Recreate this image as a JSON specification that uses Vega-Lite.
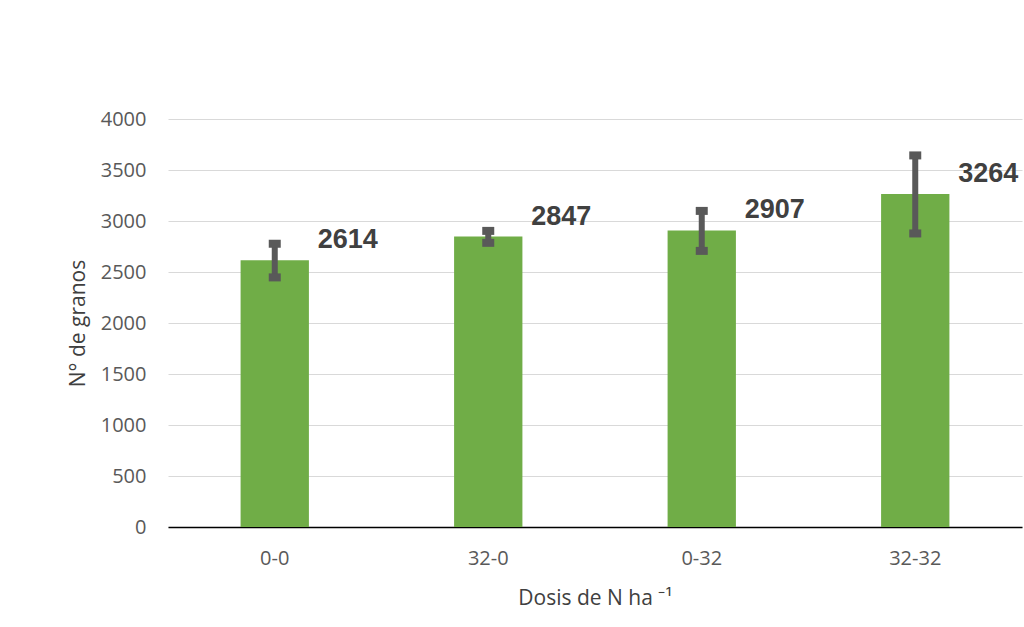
{
  "$schema": "https://vega.github.io/schema/vega-lite/v6.json",
  "width": 854,
  "height": 408,
  "autosize": "none",
  "padding": {"left": 168, "top": 119, "right": 2, "bottom": 100},
  "background": "white",
  "data": {
    "values": [
      {"dosis": "0-0", "granos": 2614, "lower": 2447, "upper": 2777},
      {"dosis": "32-0", "granos": 2847, "lower": 2786, "upper": 2903},
      {"dosis": "0-32", "granos": 2907, "lower": 2707, "upper": 3099},
      {"dosis": "32-32", "granos": 3264, "lower": 2878, "upper": 3643}
    ]
  },
  "encoding": {
    "x": {
      "field": "dosis",
      "type": "nominal",
      "sort": null,
      "title": "Dosis de N ha \u207b\u00b9",
      "scale": {"paddingInner": 0.68, "paddingOuter": 0.34},
      "axis": {
        "labelAngle": 0,
        "labelPadding": 21,
        "ticks": false,
        "domainColor": "#000000",
        "domainWidth": 1.5,
        "titlePadding": 19
      }
    }
  },
  "layer": [
    {
      "mark": {"type": "bar", "color": "#70AD47"},
      "encoding": {
        "y": {
          "field": "granos",
          "type": "quantitative",
          "title": "N° de granos",
          "scale": {"domain": [0, 4000], "nice": false},
          "axis": {
            "values": [0, 500, 1000, 1500, 2000, 2500, 3000, 3500, 4000],
            "format": "d",
            "domain": false,
            "ticks": false,
            "labelPadding": 22,
            "gridColor": "#D9D9D9",
            "titlePadding": 12
          }
        }
      }
    },
    {
      "mark": {"type": "rule", "color": "#595959", "strokeWidth": 6},
      "encoding": {
        "y": {"field": "lower", "type": "quantitative"},
        "y2": {"field": "upper"}
      }
    },
    {
      "mark": {"type": "tick", "color": "#595959", "size": 12, "thickness": 8, "opacity": 1},
      "encoding": {
        "y": {"field": "upper", "type": "quantitative"}
      }
    },
    {
      "mark": {"type": "tick", "color": "#595959", "size": 12, "thickness": 8, "opacity": 1},
      "encoding": {
        "y": {"field": "lower", "type": "quantitative"}
      }
    },
    {
      "mark": {
        "type": "text",
        "align": "left",
        "baseline": "middle",
        "dx": 43,
        "dy": -20,
        "font": "Liberation Sans",
        "fontSize": 27,
        "fontWeight": "bold",
        "color": "#404040"
      },
      "encoding": {
        "y": {"field": "granos", "type": "quantitative"},
        "text": {"field": "granos", "type": "quantitative", "format": "d"}
      }
    }
  ],
  "config": {
    "view": {"stroke": null},
    "axis": {
      "labelFont": "Open Sans",
      "labelFontSize": 20,
      "labelColor": "#595959",
      "titleFont": "Open Sans",
      "titleFontSize": 21,
      "titleFontWeight": "normal",
      "titleColor": "#404040"
    }
  }
}
